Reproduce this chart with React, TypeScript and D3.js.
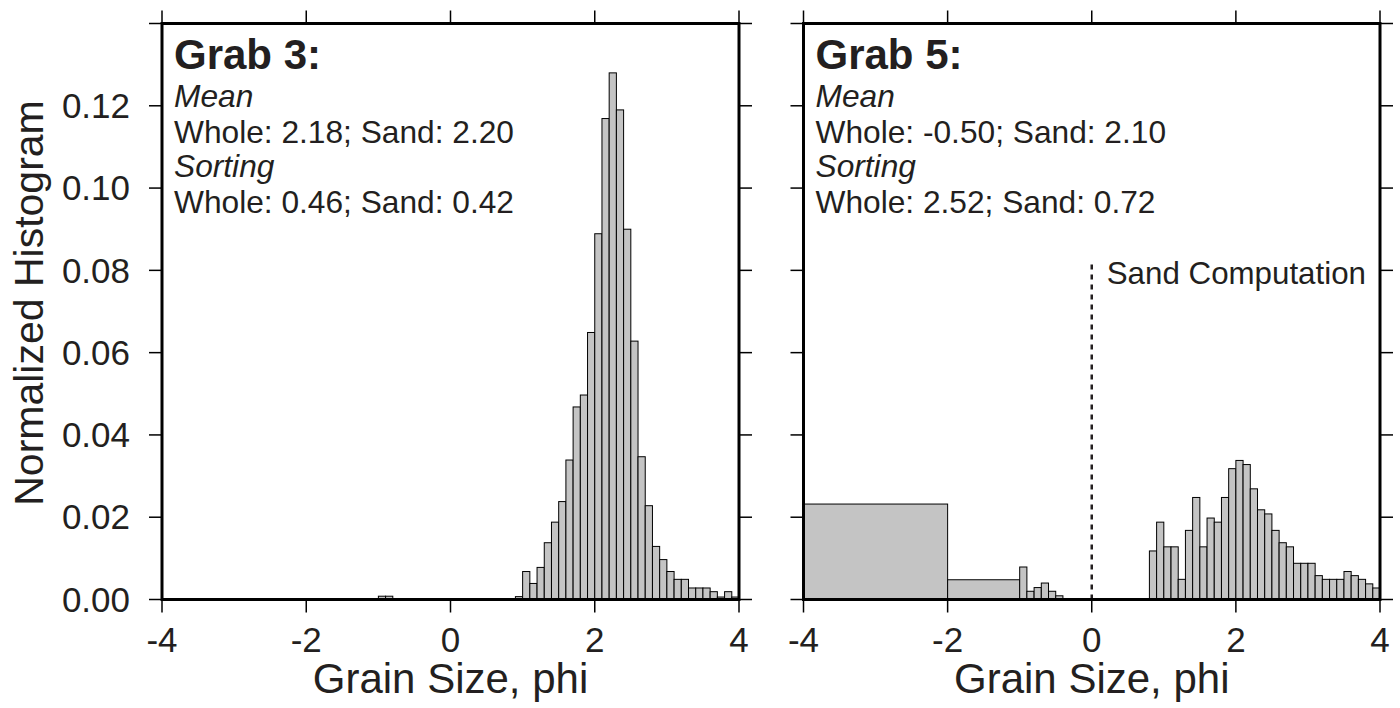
import React from "react";
import * as d3 from "d3";

// ---- data -------------------------------------------------------------
const BIN_WIDTH = 0.1;

const phiTicks = [-4, -2, 0, 2, 4];
const freqTicks = [0, 0.02, 0.04, 0.06, 0.08, 0.1, 0.12, 0.14];
const freqTickLabels = ["0.00", "0.02", "0.04", "0.06", "0.08", "0.10", "0.12", ""];

// Grab 3: a couple of stray coarse grains, then the sand distribution
const grab3CoarseStart = -1.0;
const grab3CoarseValues = [0.0008, 0.0008];
const grab3SandStart = 0.9;
const grab3SandValues = [
  0.0007, 0.0068, 0.0039, 0.0078, 0.0138, 0.0188, 0.0238, 0.0339, 0.0468, 0.0497,
  0.0649, 0.0889, 0.1169, 0.128, 0.119, 0.09, 0.0628, 0.0347, 0.0228, 0.0129,
  0.0097, 0.0068, 0.0049, 0.0049, 0.0028, 0.0028, 0.0028, 0.0019, 0.0006, 0.0019,
  0.0006,
];

// Grab 5: wide gravel classes, fine-binned granules, then sand
const grab5GravelEdges = [-4, -2, -1];
const grab5GravelValues = [0.0232, 0.0048];
const grab5GranuleStart = -1.0;
const grab5GranuleValues = [0.0079, 0.002, 0.0029, 0.004, 0.002, 0.0009];
const grab5SandStart = 0.8;
const grab5SandValues = [
  0.0118, 0.0188, 0.0128, 0.0128, 0.0049, 0.0168, 0.0248, 0.0128, 0.0198, 0.0188,
  0.0248, 0.0318, 0.0338, 0.0328, 0.0269, 0.0218, 0.0208, 0.0168, 0.0138, 0.0128,
  0.0088, 0.0088, 0.0088, 0.0058, 0.0049, 0.0049, 0.0049, 0.0068, 0.0058, 0.0049,
  0.0038, 0.0028,
];
const sandCutoff = 0;
const sandCutoffTop = 0.082;

const grab3Stats = ["Whole: 2.18; Sand: 2.20", "Whole: 0.46; Sand: 0.42"];
const grab5Stats = ["Whole: -0.50; Sand: 2.10", "Whole: 2.52; Sand: 0.72"];

// ---- helpers ------------------------------------------------------------
type Bin = { x0: number; x1: number; v: number };

function evenBins(start: number, values: number[]): Bin[] {
  return values.map((v, i) => ({
    x0: +(start + i * BIN_WIDTH).toFixed(2),
    x1: +(start + (i + 1) * BIN_WIDTH).toFixed(2),
    v,
  }));
}

function edgeBins(edges: number[], values: number[]): Bin[] {
  return values.map((v, i) => ({ x0: edges[i], x1: edges[i + 1], v }));
}

const grab3Bins = [
  ...evenBins(grab3CoarseStart, grab3CoarseValues),
  ...evenBins(grab3SandStart, grab3SandValues),
];
const grab5Bins = [
  ...edgeBins(grab5GravelEdges, grab5GravelValues),
  ...evenBins(grab5GranuleStart, grab5GranuleValues),
  ...evenBins(grab5SandStart, grab5SandValues),
];

const FONT = "'Liberation Sans', Arial, Helvetica, sans-serif";
const INK = "#231f20";
const TOP = 23.5;
const BOTTOM = 599.5;
const TICK = 13;
const NOTE_SIZE = 31.7;

type PanelProps = {
  left: number;
  right: number;
  bins: Bin[];
  title: string;
  stats: string[];
  showYLabels: boolean;
  cutoff?: boolean;
};

function Panel({ left, right, bins, title, stats, showYLabels, cutoff }: PanelProps) {
  const x = d3.scaleLinear().domain([-4, 4]).range([left, right]);
  const y = d3.scaleLinear().domain([0, 0.14]).range([BOTTOM, TOP]);
  const tx = left + 12;
  const mid = (left + right) / 2;

  return (
    <g>
      {/* histogram bars */}
      {bins.map((b, i) => (
        <rect
          key={i}
          x={x(b.x0)}
          y={y(b.v)}
          width={x(b.x1) - x(b.x0)}
          height={y(0) - y(b.v)}
          fill="#c4c4c4"
          stroke="#000"
          strokeWidth={1}
        />
      ))}

      {cutoff && (
        <g>
          <line
            x1={x(sandCutoff)}
            x2={x(sandCutoff)}
            y1={y(0)}
            y2={y(sandCutoffTop)}
            stroke={INK}
            strokeWidth={2.5}
            strokeDasharray="5,5"
          />
          <text
            x={x(sandCutoff) + 15}
            y={284}
            fontSize={31.3}
            fontFamily={FONT}
            fill={INK}
          >
            Sand Computation
          </text>
        </g>
      )}

      {/* ticks on all four sides, pointing outward */}
      {phiTicks.map((t) => (
        <g key={"x" + t}>
          <line x1={x(t)} x2={x(t)} y1={BOTTOM} y2={BOTTOM + TICK} stroke="#000" strokeWidth={1.5} />
          <line x1={x(t)} x2={x(t)} y1={TOP} y2={TOP - TICK} stroke="#000" strokeWidth={1.5} />
          <text
            x={x(t)}
            y={652}
            textAnchor="middle"
            fontSize={35}
            fontFamily={FONT}
            fill={INK}
          >
            {t}
          </text>
        </g>
      ))}
      {freqTicks.map((t, i) => (
        <g key={"y" + t}>
          <line x1={left - TICK} x2={left} y1={y(t)} y2={y(t)} stroke="#000" strokeWidth={1.5} />
          <line x1={right} x2={right + TICK} y1={y(t)} y2={y(t)} stroke="#000" strokeWidth={1.5} />
          {showYLabels && (
            <text
              x={130}
              y={y(t)}
              dy="0.35em"
              textAnchor="end"
              fontSize={35}
              fontFamily={FONT}
              fill={INK}
            >
              {freqTickLabels[i]}
            </text>
          )}
        </g>
      ))}

      {/* frame */}
      <rect
        x={left}
        y={TOP}
        width={right - left}
        height={BOTTOM - TOP}
        fill="none"
        stroke="#000"
        strokeWidth={3}
      />

      {/* annotation block */}
      <g fontFamily={FONT} fill={INK}>
        <text x={tx} y={69} fontSize={42} fontWeight="bold">
          {title}
        </text>
        <text x={tx} y={107} fontSize={NOTE_SIZE} fontStyle="italic">
          Mean
        </text>
        <text x={tx} y={143} fontSize={NOTE_SIZE}>
          {stats[0]}
        </text>
        <text x={tx} y={177} fontSize={NOTE_SIZE} fontStyle="italic">
          Sorting
        </text>
        <text x={tx} y={213} fontSize={NOTE_SIZE}>
          {stats[1]}
        </text>
      </g>

      <text
        x={mid}
        y={693}
        textAnchor="middle"
        fontSize={42}
        fontFamily={FONT}
        fill={INK}
      >
        Grain Size, phi
      </text>
    </g>
  );
}

export default function App() {
  return (
    <svg
      width={1400}
      height={708}
      style={{ position: "absolute", left: 0, top: 0, background: "#fff" }}
    >
      <rect width={1400} height={708} fill="#fff" />
      <Panel
        left={162}
        right={739}
        bins={grab3Bins}
        title="Grab 3:"
        stats={grab3Stats}
        showYLabels
      />
      <Panel
        left={803.5}
        right={1380}
        bins={grab5Bins}
        title="Grab 5:"
        stats={grab5Stats}
        showYLabels={false}
        cutoff
      />
      <text
        transform="translate(43,303) rotate(-90)"
        textAnchor="middle"
        fontSize={41}
        fontFamily={FONT}
        fill={INK}
      >
        Normalized Histogram
      </text>
    </svg>
  );
}
